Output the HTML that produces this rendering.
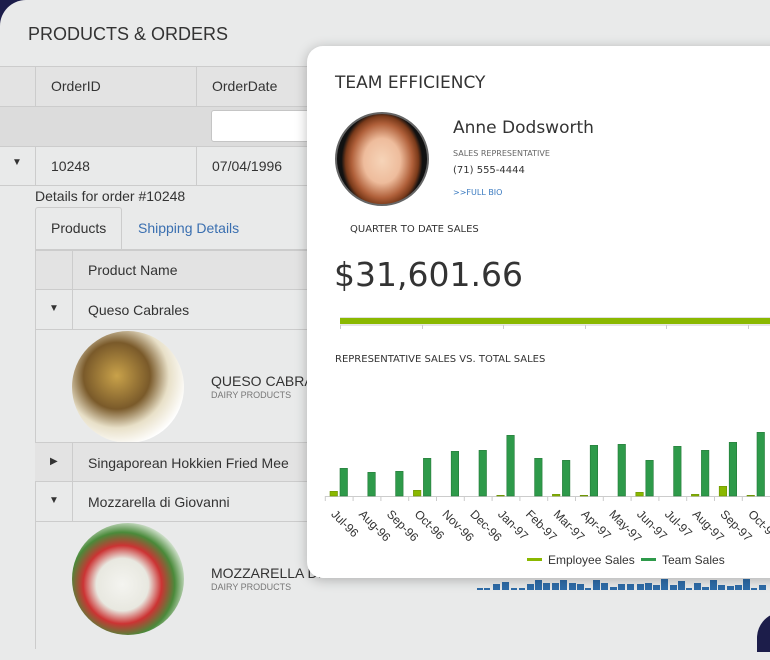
<!DOCTYPE html>
<html><head><style>
*{margin:0;padding:0;box-sizing:border-box}
body{width:770px;height:635px;overflow:hidden;background:#1c1d4a;font-family:"Liberation Sans",sans-serif;position:relative}
.a{position:absolute}
#main{left:0;top:0;width:800px;height:660px;background:#e9eaea;border-radius:26px 26px 0 0;overflow:hidden}
.t{color:#333;font-size:14px}
.hl{background:#ccc;height:1px}
.vl{background:#ccc;width:1px}
</style></head><body>
<div id="main" class="a">
 <div class="a" style="left:28px;top:24px;font-size:18px;color:#333">PRODUCTS &amp; ORDERS</div>
 <div class="a" style="left:0;top:66px;width:800px;height:40px;background:#e3e3e3"></div>
 <div class="a" style="left:0;top:106px;width:800px;height:40px;background:#dcdcdc"></div>
 <div class="a hl" style="left:0;top:66px;width:800px"></div>
 <div class="a hl" style="left:0;top:106px;width:800px"></div>
 <div class="a hl" style="left:0;top:146px;width:800px"></div>
 <div class="a hl" style="left:0;top:185px;width:800px"></div>
 <div class="a vl" style="left:35px;top:66px;height:40px"></div>
 <div class="a vl" style="left:196px;top:66px;height:40px"></div>
 <div class="a vl" style="left:35px;top:146px;height:40px"></div>
 <div class="a vl" style="left:196px;top:146px;height:40px"></div>
 <div class="a" style="left:211px;top:110px;width:120px;height:32px;background:#fff;border:1px solid #c5c5c5;border-radius:3px"></div>
 <div class="a t" style="left:51px;top:78px">OrderID</div>
 <div class="a t" style="left:212px;top:78px">OrderDate</div>
 <div class="a t" style="left:12px;top:157px;font-size:10px">▼</div>
 <div class="a t" style="left:51px;top:158px">10248</div>
 <div class="a t" style="left:212px;top:158px">07/04/1996</div>
 <div class="a t" style="left:35px;top:188px">Details for order #10248</div>
 <div class="a" style="left:35px;top:207px;width:87px;height:43px;border:1px solid #ccc;border-bottom:none;background:#e9eaea;border-radius:3px 3px 0 0"></div>
 <div class="a t" style="left:51px;top:220px">Products</div>
 <div class="a t" style="left:138px;top:220px;color:#3a6fb0">Shipping Details</div>
 <div class="a" style="left:35px;top:249px;width:800px;height:41px;background:#e3e3e3;border:1px solid #ccc;border-top:2px solid #ccc"></div>
 <div class="a vl" style="left:35px;top:249px;height:400px"></div>
 <div class="a vl" style="left:72px;top:249px;height:81px"></div>
 <div class="a t" style="left:88px;top:262px">Product Name</div>
 <div class="a hl" style="left:35px;top:329px;width:800px"></div>
 <div class="a t" style="left:49px;top:303px;font-size:10px">▼</div>
 <div class="a t" style="left:88px;top:302px">Queso Cabrales</div>
 <div class="a" style="left:72px;top:331px;width:112px;height:112px;border-radius:50%;background:radial-gradient(circle at 40% 40%,#c9a24a 0,#7a5a2a 35%,#e8e0c8 55%,#fff 75%)"></div>
 <div class="a t" style="left:211px;top:373px">QUESO CABRALES</div>
 <div class="a" style="left:211px;top:390px;font-size:9px;color:#777">DAIRY PRODUCTS</div>
 <div class="a" style="left:35px;top:442px;width:800px;height:40px;background:#e3e3e3;border-top:1px solid #ccc;border-bottom:1px solid #ccc"></div>
 <div class="a vl" style="left:72px;top:442px;height:80px"></div>
 <div class="a t" style="left:50px;top:456px;font-size:10px">▶</div>
 <div class="a t" style="left:88px;top:455px">Singaporean Hokkien Fried Mee</div>
 <div class="a hl" style="left:35px;top:521px;width:800px"></div>
 <div class="a t" style="left:49px;top:495px;font-size:10px">▼</div>
 <div class="a t" style="left:88px;top:494px">Mozzarella di Giovanni</div>
 <div class="a" style="left:72px;top:523px;width:112px;height:112px;border-radius:50%;background:radial-gradient(circle at 45% 55%,#f4f4f0 0,#e8e8e0 30%,#c33 45%,#4a8a3a 60%,#fff 78%)"></div>
 <div class="a t" style="left:211px;top:565px">MOZZARELLA DI GIOVANNI</div>
 <div class="a" style="left:211px;top:582px;font-size:9px;color:#777">DAIRY PRODUCTS</div>
 <svg class="a" style="left:477px;top:575px" width="300" height="20">
  <g fill="#2e6ca8">
   <rect x="0" y="13" width="6" height="2"/><rect x="7" y="13" width="6" height="2"/><rect x="16" y="9" width="7" height="6"/><rect x="25" y="7" width="7" height="8"/><rect x="34" y="13" width="6" height="2"/><rect x="42" y="13" width="6" height="2"/><rect x="50" y="9" width="7" height="6"/><rect x="58" y="5" width="7" height="10"/><rect x="66" y="8" width="7" height="7"/><rect x="75" y="8" width="7" height="7"/><rect x="83" y="5" width="7" height="10"/><rect x="92" y="8" width="7" height="7"/><rect x="100" y="9" width="7" height="6"/><rect x="108" y="13" width="6" height="2"/><rect x="116" y="5" width="7" height="10"/><rect x="124" y="8" width="7" height="7"/><rect x="133" y="12" width="7" height="3"/><rect x="141" y="9" width="7" height="6"/><rect x="150" y="9" width="7" height="6"/><rect x="160" y="9" width="7" height="6"/><rect x="168" y="8" width="7" height="7"/><rect x="176" y="10" width="7" height="5"/><rect x="184" y="4" width="7" height="11"/><rect x="193" y="10" width="7" height="5"/><rect x="201" y="6" width="7" height="9"/><rect x="209" y="13" width="6" height="2"/><rect x="217" y="8" width="7" height="7"/><rect x="225" y="12" width="7" height="3"/><rect x="233" y="5" width="7" height="10"/><rect x="241" y="10" width="7" height="5"/><rect x="250" y="11" width="7" height="4"/><rect x="258" y="10" width="7" height="5"/><rect x="266" y="4" width="7" height="11"/><rect x="274" y="13" width="6" height="2"/><rect x="282" y="10" width="7" height="5"/>
  </g>
 </svg>
</div>
<div class="a" style="left:757px;top:612px;width:40px;height:40px;background:#1c1d4a;border-radius:26px 0 0 0"></div>

<div class="a" style="left:307px;top:46px;width:500px;height:532px;background:#fff;border-radius:16px;box-shadow:0 2px 12px rgba(0,0,0,0.25);overflow:hidden;font-family:'DejaVu Sans','Liberation Sans',sans-serif">
 <div class="a" style="left:28px;top:27px;font-size:17px;color:#333">TEAM EFFICIENCY</div>
 <div class="a" style="left:28px;top:66px;width:94px;height:94px;border-radius:50%;border:2px solid #666;background:radial-gradient(ellipse 45% 55% at 50% 52%,#f6d4b8 0,#eebc9c 45%,#b0603a 75%,#7a3a1a 90%,#111 100%),#111"></div>
 <div class="a" style="left:146px;top:72px;font-size:17px;color:#333">Anne Dodsworth</div>
 <div class="a" style="left:146px;top:103px;font-size:8px;color:#666">SALES REPRESENTATIVE</div>
 <div class="a" style="left:146px;top:119px;font-size:10px;color:#333">(71) 555-4444</div>
 <div class="a" style="left:146px;top:142px;font-size:8px;color:#3a7ac0">&gt;&gt;FULL BIO</div>
 <div class="a" style="left:43px;top:178px;font-size:10px;color:#333">QUARTER TO DATE SALES</div>
 <div class="a" style="left:27px;top:209px;font-size:33px;color:#333">$31,601.66</div>
 <div class="a" style="left:33px;top:271px;width:470px;height:7px;background:#8ab800;border-top:1px solid #e0e0e0"></div>
 <svg class="a" style="left:0;top:278px" width="500" height="10"><g stroke="#ccc"><line x1="33" y1="1" x2="500" y2="1"/><line x1="33.5" y1="1" x2="33.5" y2="5"/><line x1="115.5" y1="1" x2="115.5" y2="5"/><line x1="196.5" y1="1" x2="196.5" y2="5"/><line x1="278.5" y1="1" x2="278.5" y2="5"/><line x1="359.5" y1="1" x2="359.5" y2="5"/><line x1="441.5" y1="1" x2="441.5" y2="5"/></g></svg>
 <div class="a" style="left:28px;top:308px;font-size:10px;color:#333">REPRESENTATIVE SALES VS. TOTAL SALES</div>
</div>
<svg class="a" style="left:0;top:0" width="770" height="578">
 <g id="c"></g>
</svg>
<script>
var team=[505,517,514,475,454,451,406,475,481,436,433,481,439,451,427,397];
var emp=[574,0,0,571,0,0,586,0,583,586,0,577,0,583,559,586];
var lab=["Jul-96","Aug-96","Sep-96","Oct-96","Nov-96","Dec-96","Jan-97","Feb-97","Mar-97","Apr-97","May-97","Jun-97","Jul-97","Aug-97","Sep-97","Oct-97"];
var s='<line x1="325" y1="496.5" x2="770" y2="496.5" stroke="#ccc"/>';
for(var i=0;i<16;i++){var x0=325.3+i*27.8;
s+='<line x1="'+x0+'" y1="496" x2="'+x0+'" y2="501" stroke="#ccc"/>';
var ty=300+team[i]/3;s+='<rect x="'+(x0+14.7)+'" y="'+ty+'" width="7.5" height="'+(496-ty)+'" fill="#2e9a4a" stroke="#237a38" stroke-width="0.6"/>';
if(emp[i]){var ey=300+emp[i]/3;s+='<rect x="'+(x0+4.7)+'" y="'+ey+'" width="7.5" height="'+(496-ey)+'" fill="#8ab800" stroke="#6a9000" stroke-width="0.6"/>';}
s+='<text x="'+(x0+8)+'" y="516" transform="rotate(45 '+(x0+8)+' 512)" font-size="12" fill="#333" font-family="Liberation Sans,sans-serif">'+lab[i]+'</text>';}
s+='<rect x="527" y="558" width="15" height="3" fill="#8ab800"/><text x="548" y="564" font-size="12" fill="#333" font-family="Liberation Sans,sans-serif">Employee Sales</text>';
s+='<rect x="641" y="558" width="15" height="3" fill="#2e9a4a"/><text x="662" y="564" font-size="12" fill="#333" font-family="Liberation Sans,sans-serif">Team Sales</text>';
document.getElementById('c').innerHTML=s;
</script>
</body></html>
